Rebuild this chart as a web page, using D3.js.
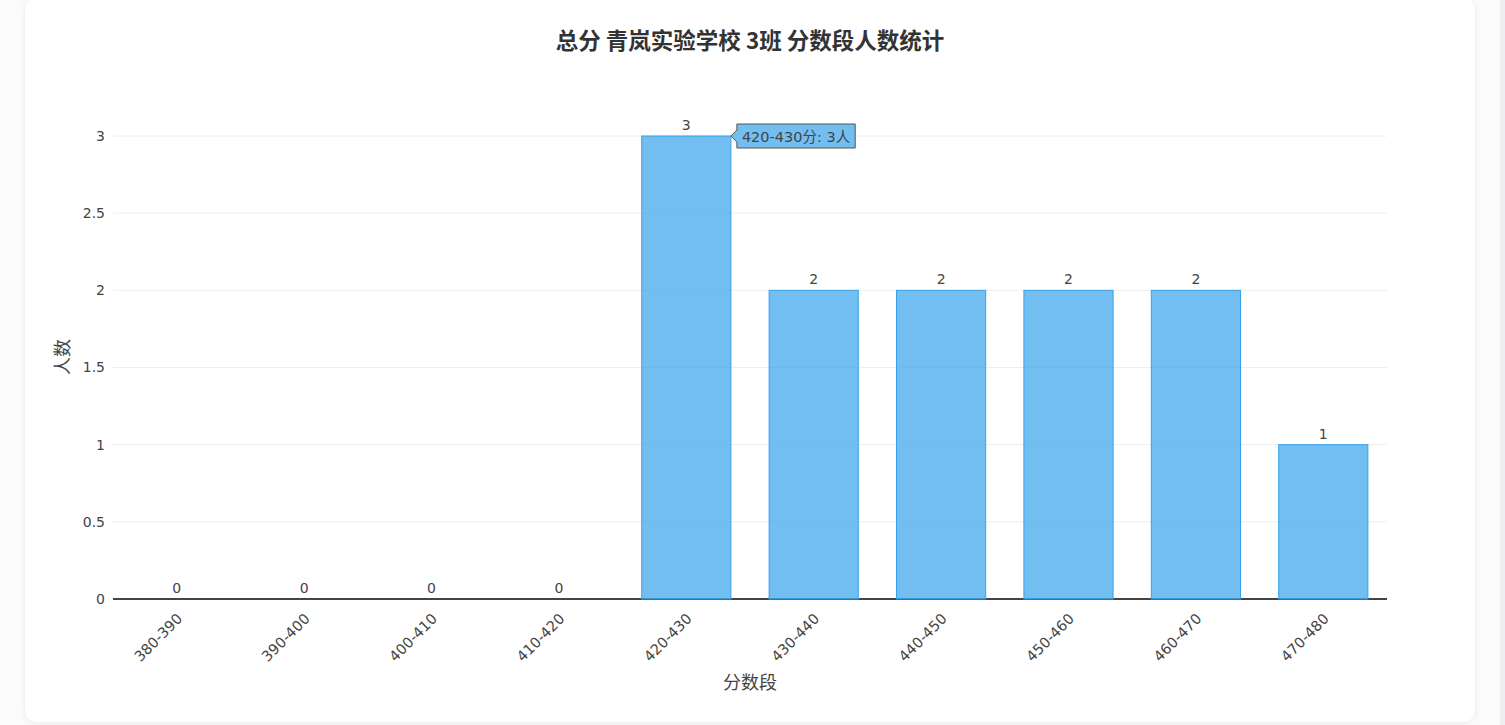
<!DOCTYPE html>
<html><head><meta charset="utf-8">
<script src="https://cdn.jsdelivr.net/npm/d3@7/dist/d3.min.js"></script>
<style>
html,body{margin:0;padding:0;background:#fbfbfb;overflow:hidden;}
#card{position:absolute;left:25px;top:-2px;width:1450px;height:724px;background:#fff;border-radius:12px;box-shadow:0 1px 6px rgba(0,0,0,0.07);}
#sb{position:absolute;left:1500px;top:0;width:5px;height:725px;background:#eceef2;}
svg{position:absolute;left:0;top:0;}
</style></head>
<body><div id="card"></div><div id="sb"></div>
<svg id="chart" width="1505" height="725"></svg>
<script>
const categories = ["380-390","390-400","400-410","410-420","420-430","430-440","440-450","450-460","460-470","470-480"];
const counts = [0,0,0,0,3,2,2,2,2,1];
const yTicks = [0,0.5,1,1.5,2,2.5,3];
const titleText = "总分 青岚实验学校 3班 分数段人数统计";
const hoverIndex = 4;

const font = "'DejaVu Sans','Noto Sans CJK SC',sans-serif";
const cjk = "'Noto Sans CJK SC',sans-serif";
const svg = d3.select("#chart");
const pLeft = 113, pRight = 1387, pTop = 136, pBottom = 599;
const x = d3.scaleBand().domain(categories).range([pLeft, pRight]).paddingInner(0.3).paddingOuter(0.15);
const y = d3.scaleLinear().domain([0, 3]).range([pBottom, pTop]);

// gridlines
svg.append("g").selectAll("line").data(yTicks.filter(d=>d>0)).join("line")
  .attr("x1", pLeft).attr("x2", pRight)
  .attr("y1", d=>y(d)).attr("y2", d=>y(d))
  .attr("stroke", "#eeeeee").attr("stroke-width", 1);

// y axis
const yAxis = d3.axisLeft(y).tickValues(yTicks).tickSize(0).tickPadding(8).tickFormat(d=>String(d));
const gy = svg.append("g").attr("transform", `translate(${pLeft},0)`).call(yAxis);
gy.select(".domain").remove();
gy.selectAll("text").attr("font-family", font).attr("font-size", 14).attr("fill", "#444");

// x axis
const xAxis = d3.axisBottom(x).tickSize(0).tickPadding(10);
const gx = svg.append("g").attr("transform", `translate(0,${pBottom})`).call(xAxis);
gx.select(".domain").attr("stroke", "#444").attr("stroke-width", 2).attr("d", `M${pLeft},0H${pRight}`);
gx.selectAll("text").attr("font-family", font).attr("font-size", 14.5).attr("fill", "#444")
  .attr("text-anchor", "end").attr("y", 0).attr("dy", "0.35em")
  .attr("transform", "translate(3,17) rotate(-45)");

// bars
svg.append("g").selectAll("rect").data(categories).join("rect")
  .attr("x", d=>x(d)).attr("width", x.bandwidth())
  .attr("y", (d,i)=>y(counts[i])).attr("height", (d,i)=>y(0)-y(counts[i]))
  .attr("fill", "rgba(54,162,235,0.7)").attr("stroke", "rgb(54,162,235)").attr("stroke-width", 1)
  .attr("stroke-opacity", (d,i)=>counts[i]===0 ? 0.6 : 1);

// value labels
svg.append("g").selectAll("text").data(categories).join("text")
  .attr("x", d=>x(d)+x.bandwidth()/2).attr("y", (d,i)=>y(counts[i])-6)
  .attr("text-anchor", "middle").attr("font-family", font).attr("font-size", 14).attr("fill", "#444")
  .text((d,i)=>counts[i]);

// title
svg.append("text").attr("x", 750).attr("y", 49).attr("text-anchor", "middle")
  .attr("font-family", cjk).attr("font-weight", "bold").attr("font-size", 22.5).attr("fill", "#333")
  .text(titleText);

// axis titles
svg.append("text").attr("x", 750).attr("y", 689).attr("text-anchor", "middle")
  .attr("font-family", cjk).attr("font-size", 18).attr("fill", "#444").text("分数段");
svg.append("text").attr("transform", "translate(69,357) rotate(-90)").attr("text-anchor", "middle")
  .attr("font-family", cjk).attr("font-size", 18).attr("fill", "#444").text("人数");

// hover label
const hc = categories[hoverIndex];
const hx = x(hc) + x.bandwidth(), hy = y(counts[hoverIndex]);
const hg = svg.append("g").attr("transform", `translate(${hx},${hy})`);
const ht = hg.append("text").attr("x", 11).attr("y", 6).attr("font-family", font)
  .attr("font-size", 14.5).attr("fill", "#444").text(`${hc}分: ${counts[hoverIndex]}人`);
const w = ht.node().getComputedTextLength() + 10;
hg.insert("path", "text").attr("d", `M0,0L6,-6V-12H${6+w}V12H6V6Z`)
  .attr("fill", "rgb(114,190,241)").attr("stroke", "#555").attr("stroke-width", 1);
</script></body></html>
